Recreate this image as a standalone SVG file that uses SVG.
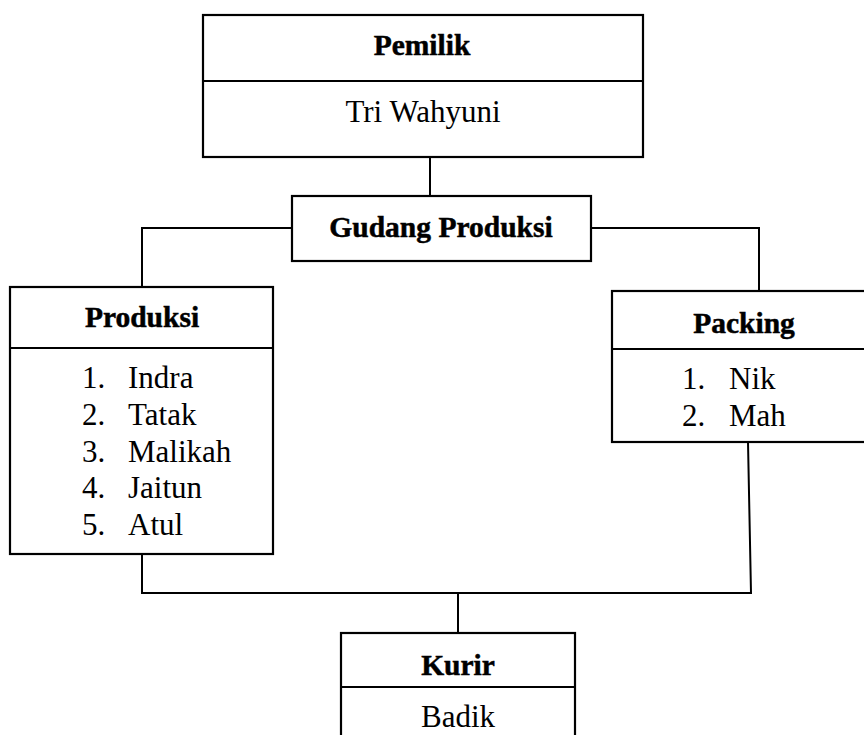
<svg xmlns="http://www.w3.org/2000/svg" width="864" height="735" viewBox="0 0 864 735">
<style>
.box{fill:#fff;stroke:#000;stroke-width:2.2}
.div{stroke:#000;stroke-width:2.2}
.con{fill:none;stroke:#000;stroke-width:2}
.h{font-family:'Liberation Serif','Times New Roman',Times,'DejaVu Serif',serif;font-weight:bold;font-size:29.5px;fill:#000;stroke:#000;stroke-width:0.5;text-anchor:middle}
.t{font-family:'Liberation Serif','Times New Roman',Times,'DejaVu Serif',serif;font-size:31px;fill:#000}
.c{text-anchor:middle}
</style>
<rect width="864" height="735" fill="#fff"/>
<g id="connectors">
<line class="con" x1="430" y1="157" x2="430" y2="196"/>
<polyline class="con" points="292,228 142,228 142,287"/>
<polyline class="con" points="591,228 759,228 759,291"/>
<polyline class="con" points="142,554 142,593 751,593 748,442"/>
<line class="con" x1="458" y1="593" x2="458" y2="633"/>
</g>
<g id="pemilik">
<rect class="box" x="203" y="15" width="440" height="142"/>
<line class="div" x1="203" y1="81" x2="643" y2="81"/>
<text class="h" x="422" y="55">Pemilik</text>
<text class="t c" x="423" y="122">Tri Wahyuni</text>
</g>
<g id="gudang">
<rect class="box" x="292" y="196" width="299" height="65"/>
<text class="h" x="441" y="237">Gudang Produksi</text>
</g>
<g id="produksi">
<rect class="box" x="10" y="287" width="263" height="267"/>
<line class="div" x1="10" y1="348" x2="273" y2="348"/>
<text class="h" x="142" y="327">Produksi</text>
<text class="t" x="82" y="388">1.</text><text class="t" x="128" y="388">Indra</text>
<text class="t" x="82" y="425">2.</text><text class="t" x="128" y="425">Tatak</text>
<text class="t" x="82" y="462">3.</text><text class="t" x="128" y="462">Malikah</text>
<text class="t" x="82" y="498">4.</text><text class="t" x="128" y="498">Jaitun</text>
<text class="t" x="82" y="535">5.</text><text class="t" x="128" y="535">Atul</text>
</g>
<g id="packing">
<rect class="box" x="612" y="291" width="265" height="151"/>
<line class="div" x1="612" y1="349" x2="877" y2="349"/>
<text class="h" x="744" y="333">Packing</text>
<text class="t" x="682" y="389">1.</text><text class="t" x="729" y="389">Nik</text>
<text class="t" x="682" y="426">2.</text><text class="t" x="729" y="426">Mah</text>
</g>
<g id="kurir">
<rect class="box" x="341" y="633" width="234" height="120"/>
<line class="div" x1="341" y1="687" x2="575" y2="687"/>
<text class="h" x="458" y="675">Kurir</text>
<text class="t c" x="458" y="727">Badik</text>
</g>
</svg>
